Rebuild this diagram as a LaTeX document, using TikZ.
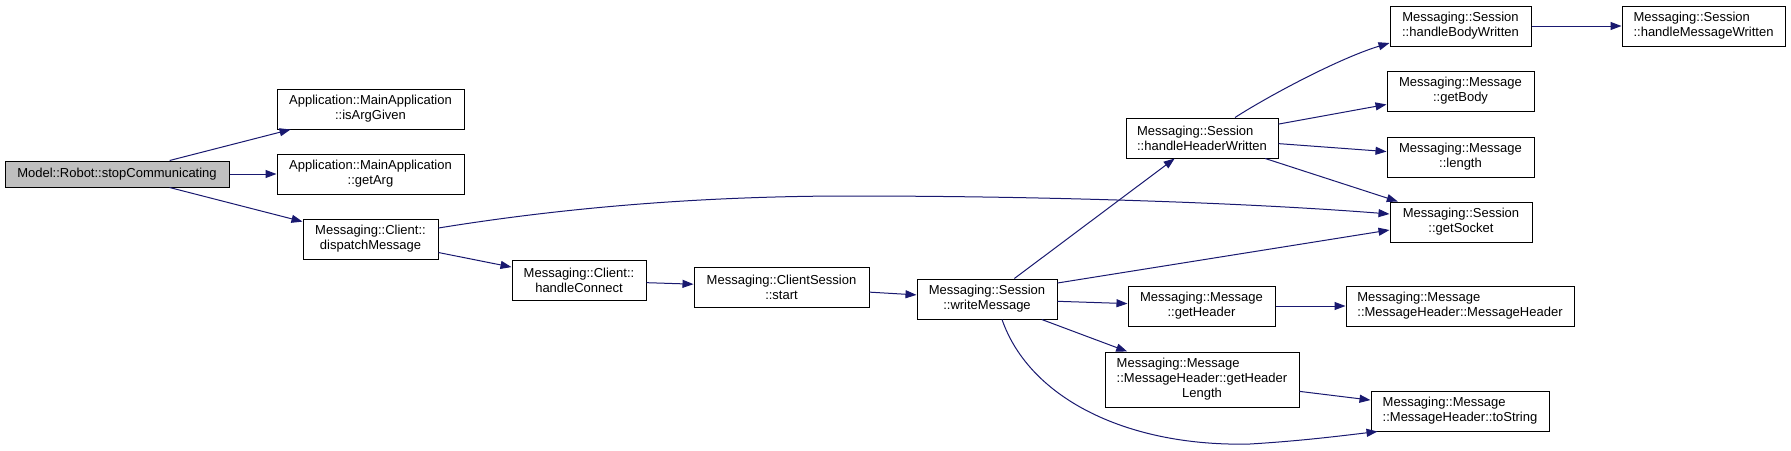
\documentclass[tikz,border=0pt]{standalone}
\usepackage{fontspec}
\setmainfont{Liberation Sans}
\usetikzlibrary{arrows.meta,calc}
\definecolor{edgec}{RGB}{25,25,112}
\definecolor{hlfill}{RGB}{191,191,191}
\begin{document}
\begin{tikzpicture}[x=1pt,y=-1pt,
  fn/.style={draw=black, line width=1pt, fill=white, inner sep=2pt,
    font=\fontsize{13pt}{15pt}\selectfont, minimum height=40pt},
  hl/.style={fill=hlfill},
  call/.style={draw=edgec, line width=1pt, -{Triangle[length=11pt,width=8pt]}}
]
\useasboundingbox (0,0) rectangle (1791,450);
\fill[white] (0,0) rectangle (1791,450);

\node[fn, hl, minimum width=224pt, minimum height=26pt] (robot) at (117,174) {Model::Robot::stopCommunicating};
\node[fn, minimum width=187pt, align=center] (isArg) at (370.5,109) {Application::MainApplication\\::isArgGiven};
\node[fn, minimum width=187pt, align=center] (getArg) at (370.5,174) {Application::MainApplication\\::getArg};
\node[fn, minimum width=135pt, align=center] (dispatch) at (370.5,239) {Messaging::Client::\\dispatchMessage};
\node[fn, minimum width=134pt, align=center] (hConnect) at (579,280.5) {Messaging::Client::\\handleConnect};
\node[fn, minimum width=175pt, align=center] (start) at (781.5,287) {Messaging::ClientSession\\::start};
\node[fn, minimum width=140pt, align=center] (writeMsg) at (987,299) {Messaging::Session\\::writeMessage};
\node[fn, minimum width=152pt, align=left] (hHW) at (1202,138) {Messaging::Session\\::handleHeaderWritten};
\node[fn, minimum width=141pt, align=center] (hBW) at (1460.5,26) {Messaging::Session\\::handleBodyWritten};
\node[fn, minimum width=163pt, align=left] (hMW) at (1703.5,26) {Messaging::Session\\::handleMessageWritten};
\node[fn, minimum width=147pt, align=center] (getBody) at (1460.5,91) {Messaging::Message\\::getBody};
\node[fn, minimum width=147pt, align=center] (length) at (1460.5,157) {Messaging::Message\\::length};
\node[fn, minimum width=142pt, align=center] (getSocket) at (1461,222) {Messaging::Session\\::getSocket};
\node[fn, minimum width=147pt, align=center] (getHeader) at (1201.5,306) {Messaging::Message\\::getHeader};
\node[fn, minimum width=228pt, align=left] (mh) at (1460,306) {Messaging::Message\\::MessageHeader::MessageHeader};
\node[fn, minimum width=194pt, minimum height=55pt] (ghl) at (1202,379.5) {\begin{tabular}{@{}l@{}}Messaging::Message\\::MessageHeader::getHeader\\\multicolumn{1}{@{}c@{}}{Length}\end{tabular}};
\node[fn, minimum width=178pt, align=left] (toString) at (1460,411) {Messaging::Message\\::MessageHeader::toString};

\draw[call] (robot) -- (isArg);
\draw[call] (robot) -- (getArg);
\draw[call] (robot) -- (dispatch);
\draw[call] (dispatch) -- (hConnect);
\draw[call] ($(dispatch.east)+(0,-11)$) .. controls (580,205) and (720,196) .. (850,196)
   .. controls (1050,196) and (1250,203) .. ($(getSocket.west)+(0,-8)$);
\draw[call] (hConnect) -- (start);
\draw[call] (start) -- (writeMsg);
\draw[call] (writeMsg) -- (hHW);
\draw[call] ($(writeMsg.east)+(0,-16)$) -- ($(getSocket.west)+(0,8)$);
\draw[call] (writeMsg) -- (getHeader);
\draw[call] (writeMsg) -- (ghl);
\draw[call] ($(writeMsg.south)+(15,0)$) .. controls (1030,400) and (1130,447) .. (1250,444)
   .. controls (1300,441) and (1340,436) .. ($(toString.south west)+(7,0)$);
\draw[call] (ghl) -- (toString);
\draw[call] (getHeader) -- (mh);
\draw[call] ($(hHW.north)+(33,0)$) .. controls (1270,95) and (1340,58) .. ($(hBW.west)+(0,17)$);
\draw[call] (hHW) -- (getBody);
\draw[call] (hHW) -- (length);
\draw[call] (hHW) -- (getSocket);
\draw[call] (hBW) -- (hMW);
\end{tikzpicture}
\end{document}
